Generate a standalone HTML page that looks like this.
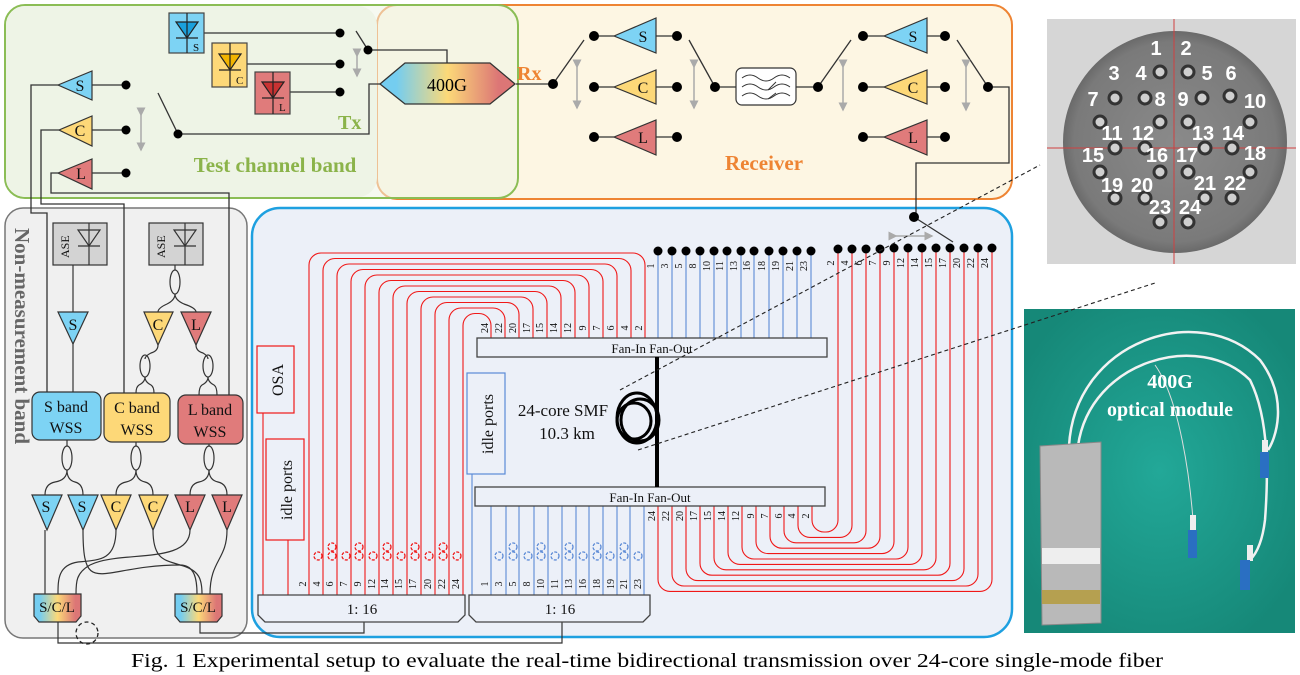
<!DOCTYPE html>
<html><head><meta charset="utf-8"><style>
html,body{margin:0;padding:0;background:#fff;}
svg{display:block;font-family:"Liberation Serif","Times New Roman",serif;}
.sans{font-family:"Liberation Sans",Arial,sans-serif;}
</style></head><body>
<svg width="1300" height="675" viewBox="0 0 1300 675" xmlns="http://www.w3.org/2000/svg">
<defs>
<linearGradient id="g4" x1="0" x2="1" y1="0" y2="0">
<stop offset="0.12" stop-color="#74cdf0"/><stop offset="0.5" stop-color="#fcd978"/><stop offset="0.88" stop-color="#dc7676"/></linearGradient>
<radialGradient id="ph" cx="0.5" cy="0.5" r="0.6"><stop offset="0" stop-color="#22a898"/><stop offset="1" stop-color="#168878"/></radialGradient>
<radialGradient id="fc" cx="0.5" cy="0.5" r="0.5"><stop offset="0" stop-color="#8a8a8a"/><stop offset="0.9" stop-color="#7a7a7a"/><stop offset="1" stop-color="#6a6a6a"/></radialGradient>
<marker id="ah" markerWidth="6" markerHeight="6" refX="5" refY="3" orient="auto"><path d="M0,0 L6,3 L0,6 z" fill="#aaa"/></marker>
</defs>
<!-- boxes -->
<rect x="377" y="5" width="635" height="194" rx="20" fill="#fdf6e3" stroke="#ee8433" stroke-width="2"/>
<rect x="5" y="5" width="513" height="193" rx="20" fill="#eef4e6" fill-opacity="0.55" stroke="#8bbd55" stroke-width="2"/>
<rect x="6" y="6" width="371" height="191" rx="19" fill="#eef4e6"/>
<rect x="5" y="208" width="242" height="430" rx="18" fill="#f0f0f0" stroke="#777" stroke-width="1.5"/>
<rect x="252" y="208" width="760" height="429" rx="28" fill="#ecf0f8" stroke="#1ea0e0" stroke-width="2.5"/>

<g stroke="#333" stroke-width="1.3" fill="none">
<line x1="204" y1="33" x2="340" y2="33"/><line x1="247" y1="64" x2="340" y2="64"/><line x1="290" y1="92" x2="340" y2="92"/>
<line x1="356" y1="31" x2="368" y2="50"/>
<polyline points="368,50 447,50 447,63"/>
<polyline points="380,84 369,84 369,134 178,134"/>
<line x1="158" y1="93" x2="178" y2="134"/>
<line x1="92" y1="85" x2="126" y2="85"/><line x1="92" y1="130" x2="126" y2="130"/><line x1="92" y1="173" x2="126" y2="173"/>
<polyline points="58,85 31,85 31,213 47,213 47,393"/>
<polyline points="59,130 41,130 41,204 124,204 124,393"/>
<polyline points="58,173 51,173 51,193 229,193 229,395"/>
<line x1="516" y1="84" x2="553" y2="84"/>
<line x1="553" y1="84" x2="584" y2="40"/>
<line x1="594" y1="36" x2="614" y2="36"/><line x1="594" y1="87" x2="614" y2="87"/><line x1="594" y1="137" x2="614" y2="137"/>
<line x1="656" y1="36" x2="677" y2="36"/><line x1="656" y1="87" x2="677" y2="87"/><line x1="656" y1="137" x2="677" y2="137"/>
<line x1="689" y1="40" x2="715" y2="87"/>
<line x1="715" y1="87" x2="736" y2="87"/><line x1="796" y1="87" x2="818" y2="87"/>
<line x1="818" y1="87" x2="851" y2="40"/>
<line x1="863" y1="36" x2="884" y2="36"/><line x1="863" y1="87" x2="884" y2="87"/><line x1="863" y1="137" x2="884" y2="137"/>
<line x1="927" y1="36" x2="945" y2="36"/><line x1="927" y1="87" x2="945" y2="87"/><line x1="927" y1="137" x2="945" y2="137"/>
<line x1="957" y1="40" x2="988" y2="87"/>
<polyline points="988,87 1009,87 1009,163 916,163 916,217"/>
<line x1="914" y1="217" x2="953" y2="242"/>
</g>
<g stroke="#aaa" stroke-width="1.5" marker-start="url(#ah)" marker-end="url(#ah)">
<line x1="357" y1="56" x2="357" y2="76"/><line x1="141" y1="115" x2="141" y2="150"/>
<line x1="577" y1="67" x2="577" y2="108"/><line x1="694" y1="67" x2="694" y2="108"/>
<line x1="843" y1="67" x2="843" y2="110"/><line x1="966" y1="67" x2="966" y2="110"/>
<line x1="896" y1="236" x2="932" y2="236"/>
</g>
<g fill="#000">
<circle cx="340" cy="33" r="4.5"/><circle cx="340" cy="64" r="4.5"/><circle cx="340" cy="92" r="4.5"/><circle cx="368" cy="50" r="4.5"/>
<circle cx="126" cy="85" r="4.5"/><circle cx="126" cy="130" r="4.5"/><circle cx="126" cy="173" r="4.5"/><circle cx="178" cy="134" r="4.5"/>
<circle cx="553" cy="84" r="5"/><circle cx="594" cy="36" r="5"/><circle cx="594" cy="87" r="5"/><circle cx="594" cy="137" r="5"/>
<circle cx="677" cy="36" r="5"/><circle cx="677" cy="87" r="5"/><circle cx="677" cy="137" r="5"/><circle cx="715" cy="87" r="5"/>
<circle cx="818" cy="87" r="5"/><circle cx="863" cy="36" r="5"/><circle cx="863" cy="87" r="5"/><circle cx="863" cy="137" r="5"/>
<circle cx="945" cy="36" r="5"/><circle cx="945" cy="87" r="5"/><circle cx="945" cy="137" r="5"/><circle cx="988" cy="87" r="5"/>
<circle cx="914" cy="217" r="5"/>
</g>
<g stroke="#444" stroke-width="1.2">
<rect x="169" y="13" width="35" height="40" fill="#7dd3f4"/>
<rect x="212" y="43" width="35" height="44" fill="#fdd878"/>
<rect x="255" y="72" width="35" height="42" fill="#e07b7b"/>
</g>
<g stroke="#222" stroke-width="1.2">
<path d="M176 22 H198 L187 38 Z" fill="#1aa0dc"/><line x1="187" y1="13" x2="187" y2="53"/><line x1="176" y1="38" x2="198" y2="38"/>
<path d="M219 54 H241 L230 70 Z" fill="#f2b400"/><line x1="230" y1="43" x2="230" y2="87"/><line x1="219" y1="70" x2="241" y2="70"/>
<path d="M262 82 H284 L273 98 Z" fill="#c83232"/><line x1="273" y1="72" x2="273" y2="114"/><line x1="262" y1="98" x2="284" y2="98"/>
</g>
<g font-size="11" fill="#111"><text x="193" y="51">S</text><text x="236" y="84">C</text><text x="279" y="111">L</text></g>
<polygon points="380,84 405,63 490,63 515,84 490,104 405,104" fill="url(#g4)" stroke="#333" stroke-width="1.3"/>
<text x="447" y="91" font-size="18" text-anchor="middle">400G</text>
<g stroke="#333" stroke-width="1.2">
<polygon points="58,85 92,71 92,100" fill="#7dd3f4"/><polygon points="59,130 92,116 92,146" fill="#fdd878"/><polygon points="58,173 92,159 92,189" fill="#e07b7b"/>
<polygon points="614,36 656,18 656,53" fill="#7dd3f4"/><polygon points="614,87 656,70 656,104" fill="#fdd878"/><polygon points="614,137 656,120 656,155" fill="#e07b7b"/>
<polygon points="884,36 927,18 927,53" fill="#7dd3f4"/><polygon points="884,87 927,70 927,104" fill="#fdd878"/><polygon points="884,137 927,120 927,155" fill="#e07b7b"/>
</g>
<g font-size="16" text-anchor="middle" fill="#111">
<text x="80" y="91">S</text><text x="80" y="136">C</text><text x="81" y="179">L</text>
<text x="643" y="42">S</text><text x="643" y="93">C</text><text x="643" y="143">L</text>
<text x="913" y="42">S</text><text x="913" y="93">C</text><text x="913" y="143">L</text>
</g>
<rect x="736" y="68" width="60" height="37" rx="6" fill="#fff" stroke="#333" stroke-width="1.2"/>
<g stroke="#333" fill="none" stroke-width="1"><path d="M742 78 q8 -6 16 0 t16 0 t16 0"/><path d="M742 87 q8 -6 16 0 t16 0 t16 0"/><path d="M742 96 q8 -6 16 0 t16 0 t16 0"/><line x1="768" y1="90" x2="776" y2="82"/><line x1="768" y1="99" x2="776" y2="93"/></g>
<g font-weight="bold">
<text x="338" y="129" font-size="20" fill="#8bb34a">Tx</text>
<text x="275" y="172" font-size="21" fill="#8bb34a" text-anchor="middle">Test channel band</text>
<text x="517" y="80" font-size="20" fill="#ee8433">Rx</text>
<text x="764" y="170" font-size="21" fill="#ee8433" text-anchor="middle">Receiver</text>
<text transform="translate(15,228) rotate(90)" font-size="21" fill="#666">Non-measurement band</text>
</g>

<g stroke="#333" stroke-width="1.2" fill="none">
<line x1="73" y1="265" x2="73" y2="393"/>
<line x1="175" y1="265" x2="175" y2="270"/>
<ellipse cx="175" cy="282" rx="5" ry="12"/>
<path d="M175 294 q0 6 -8 10 q-9 4 -9 8"/><path d="M175 294 q0 6 9 10 q12 4 12 8"/>
<path d="M158 345 q0 6 -7 8 q-6 3 -6 6"/><ellipse cx="145" cy="366" rx="5" ry="11"/><path d="M145 377 q0 5 -6 8 q-3 2 -3 8"/><path d="M145 377 q0 5 6 8 q3 2 3 8"/>
<path d="M196 345 q0 6 7 8 q5 3 5 6"/><ellipse cx="208" cy="366" rx="5" ry="11"/><path d="M208 377 q0 5 -6 8 q-3 2 -3 10"/><path d="M208 377 q0 5 6 8 q3 2 3 10"/>
<line x1="67" y1="440" x2="67" y2="446"/><ellipse cx="67" cy="458" rx="5" ry="12"/><path d="M67 470 q0 10 -12 12 q-10 2 -10 13"/><path d="M67 470 q0 10 8 12 q8 2 8 13"/>
<line x1="136" y1="442" x2="136" y2="446"/><ellipse cx="136" cy="458" rx="5" ry="12"/><path d="M136 470 q0 10 -10 12 q-10 2 -10 13"/><path d="M136 470 q0 10 9 12 q8 2 8 13"/>
<line x1="209" y1="444" x2="209" y2="446"/><ellipse cx="209" cy="458" rx="5" ry="12"/><path d="M209 470 q0 10 -10 12 q-9 2 -9 13"/><path d="M209 470 q0 10 9 12 q9 2 9 13"/>
<line x1="45" y1="530" x2="45" y2="594"/>
<path d="M83 530 C83 600 100 565 180 565 C195 565 197 580 197 594"/>
<path d="M116 530 C116 560 100 560 78 562 C58 565 58 580 58 594"/>
<path d="M153 530 C153 560 165 560 180 565 C200 570 202 580 202 594"/>
<path d="M190 530 C190 565 120 550 90 565 C76 573 76 582 76 594"/>
<path d="M227 530 C227 560 210 560 210 594"/>
<polyline points="58,622 58,643 562,643 562,622"/>
<polyline points="200,622 200,633 364,633 364,622"/>
</g>
<circle cx="87" cy="633" r="11" fill="none" stroke="#222" stroke-width="1.3" stroke-dasharray="4,3"/>
<g stroke="#333" stroke-width="1.2">
<rect x="53" y="223" width="54" height="42" fill="#d3d3d3"/><rect x="149" y="223" width="54" height="42" fill="#d3d3d3"/>
<path d="M78 230 H100 L89 246 Z" fill="none"/><line x1="89" y1="223" x2="89" y2="265"/><line x1="78" y1="246" x2="100" y2="246"/>
<path d="M174 230 H196 L185 246 Z" fill="none"/><line x1="185" y1="223" x2="185" y2="265"/><line x1="174" y1="246" x2="196" y2="246"/>
<polygon points="58,312 88,312 73,344" fill="#7dd3f4"/>
<polygon points="144,312 173,312 158,345" fill="#fdd878"/><polygon points="181,312 211,312 196,345" fill="#e07b7b"/>
<rect x="32" y="392" width="69" height="48" rx="8" fill="#7dd3f4"/>
<rect x="104" y="393" width="66" height="49" rx="8" fill="#fdd878"/>
<rect x="178" y="395" width="65" height="49" rx="8" fill="#e07b7b"/>
<polygon points="32,495 62,495 47,530" fill="#7dd3f4"/><polygon points="68,495 98,495 83,530" fill="#7dd3f4"/>
<polygon points="101,495 131,495 116,530" fill="#fdd878"/><polygon points="139,495 168,495 153,530" fill="#fdd878"/>
<polygon points="175,495 205,495 190,530" fill="#e07b7b"/><polygon points="212,495 242,495 227,530" fill="#e07b7b"/>
<polygon points="34,594 81,594 81,616 76,622 39,622 34,616" fill="url(#g4)"/>
<polygon points="175,594 222,594 222,616 217,622 180,622 175,616" fill="url(#g4)"/>
</g>
<g font-size="12" fill="#111"><text transform="translate(69,258) rotate(-90)">ASE</text><text transform="translate(165,258) rotate(-90)">ASE</text></g>
<g font-size="16" text-anchor="middle" fill="#111">
<text x="73" y="330">S</text><text x="158" y="330">C</text><text x="196" y="330">L</text>
<text x="66" y="412">S band</text><text x="66" y="433">WSS</text>
<text x="137" y="413">C band</text><text x="137" y="435">WSS</text>
<text x="210" y="415">L band</text><text x="210" y="437">WSS</text>
<text x="46" y="512">S</text><text x="82" y="512">S</text><text x="116" y="512">C</text><text x="153" y="512">C</text><text x="190" y="512">L</text><text x="227" y="512">L</text>
<text x="57" y="612" font-size="15">S/C/L</text><text x="198" y="612" font-size="15">S/C/L</text>
</g>

<g fill="none" stroke="#f01818" stroke-width="1.1">
<path d="M309 595V265A12 12 0 0 1 321 253H633A12 12 0 0 1 645 265V338"/>
<path d="M323 595V270.5A12 12 0 0 1 335 258.5H619A12 12 0 0 1 631 270.5V338"/>
<path d="M337 595V276A12 12 0 0 1 349 264H605A12 12 0 0 1 617 276V338"/>
<path d="M351 595V281.5A12 12 0 0 1 363 269.5H591A12 12 0 0 1 603 281.5V338"/>
<path d="M365 595V287A12 12 0 0 1 377 275H577A12 12 0 0 1 589 287V338"/>
<path d="M379 595V292.5A12 12 0 0 1 391 280.5H563A12 12 0 0 1 575 292.5V338"/>
<path d="M393 595V298A12 12 0 0 1 405 286H549A12 12 0 0 1 561 298V338"/>
<path d="M407 595V303.5A12 12 0 0 1 419 291.5H535A12 12 0 0 1 547 303.5V338"/>
<path d="M421 595V309A12 12 0 0 1 433 297H521A12 12 0 0 1 533 309V338"/>
<path d="M435 595V314.5A12 12 0 0 1 447 302.5H507A12 12 0 0 1 519 314.5V338"/>
<path d="M449 595V320A12 12 0 0 1 461 308H493A12 12 0 0 1 505 320V338"/>
<path d="M463 595V325.5A12 12 0 0 1 475 313.5H479A12 12 0 0 1 491 325.5V338"/>
<path d="M812 506V520A12 12 0 0 0 824 532H826A12 12 0 0 0 838 520V248"/>
<path d="M798 506V525.4A12 12 0 0 0 810 537.4H840A12 12 0 0 0 852 525.4V248"/>
<path d="M784 506V530.8A12 12 0 0 0 796 542.8H854A12 12 0 0 0 866 530.8V248"/>
<path d="M770 506V536.2A12 12 0 0 0 782 548.2H868A12 12 0 0 0 880 536.2V248"/>
<path d="M756 506V541.6A12 12 0 0 0 768 553.6H882A12 12 0 0 0 894 541.6V248"/>
<path d="M742 506V547A12 12 0 0 0 754 559H896A12 12 0 0 0 908 547V248"/>
<path d="M728 506V552.4A12 12 0 0 0 740 564.4H910A12 12 0 0 0 922 552.4V248"/>
<path d="M714 506V557.8A12 12 0 0 0 726 569.8H924A12 12 0 0 0 936 557.8V248"/>
<path d="M700 506V563.2A12 12 0 0 0 712 575.2H938A12 12 0 0 0 950 563.2V248"/>
<path d="M686 506V568.6A12 12 0 0 0 698 580.6H952A12 12 0 0 0 964 568.6V248"/>
<path d="M672 506V574A12 12 0 0 0 684 586H966A12 12 0 0 0 978 574V248"/>
<path d="M658 506V579.4A12 12 0 0 0 670 591.4H980A12 12 0 0 0 992 579.4V248"/>
<line x1="263" y1="413" x2="263" y2="595"/><line x1="288" y1="540" x2="288" y2="595"/>
</g>
<g stroke="#5b8ad6" stroke-width="1.1">
<line x1="658" y1="250" x2="658" y2="338"/><line x1="672" y1="250" x2="672" y2="338"/><line x1="686" y1="250" x2="686" y2="338"/><line x1="700" y1="250" x2="700" y2="338"/><line x1="714" y1="250" x2="714" y2="338"/><line x1="727" y1="250" x2="727" y2="338"/><line x1="741" y1="250" x2="741" y2="338"/><line x1="754" y1="250" x2="754" y2="338"/><line x1="769" y1="250" x2="769" y2="338"/><line x1="783" y1="250" x2="783" y2="338"/><line x1="797" y1="250" x2="797" y2="338"/><line x1="811" y1="250" x2="811" y2="338"/>
<line x1="491" y1="506" x2="491" y2="595"/><line x1="506" y1="506" x2="506" y2="595"/><line x1="519" y1="506" x2="519" y2="595"/><line x1="534" y1="506" x2="534" y2="595"/><line x1="548" y1="506" x2="548" y2="595"/><line x1="562" y1="506" x2="562" y2="595"/><line x1="576" y1="506" x2="576" y2="595"/><line x1="589" y1="506" x2="589" y2="595"/><line x1="603" y1="506" x2="603" y2="595"/><line x1="617" y1="506" x2="617" y2="595"/><line x1="630" y1="506" x2="630" y2="595"/><line x1="644" y1="506" x2="644" y2="595"/>
<line x1="472" y1="474" x2="472" y2="595"/>
</g>
<g fill="none" stroke="#f01818" stroke-width="1.3" stroke-dasharray="3,1.5">
<circle cx="318" cy="556" r="4"/><circle cx="332" cy="547" r="4"/><circle cx="332" cy="556" r="4"/><circle cx="346" cy="556" r="4"/><circle cx="359" cy="547" r="4"/><circle cx="359" cy="556" r="4"/><circle cx="373" cy="556" r="4"/><circle cx="387" cy="547" r="4"/><circle cx="387" cy="556" r="4"/><circle cx="401" cy="556" r="4"/><circle cx="415" cy="547" r="4"/><circle cx="415" cy="556" r="4"/><circle cx="429" cy="556" r="4"/><circle cx="443" cy="547" r="4"/><circle cx="443" cy="556" r="4"/><circle cx="457" cy="556" r="4"/>
</g>
<g fill="none" stroke="#5b8ad6" stroke-width="1.3" stroke-dasharray="3,1.5">
<circle cx="499" cy="556" r="4"/><circle cx="513" cy="547" r="4"/><circle cx="513" cy="556" r="4"/><circle cx="528" cy="556" r="4"/><circle cx="541" cy="547" r="4"/><circle cx="541" cy="556" r="4"/><circle cx="555" cy="556" r="4"/><circle cx="569" cy="547" r="4"/><circle cx="569" cy="556" r="4"/><circle cx="583" cy="556" r="4"/><circle cx="597" cy="547" r="4"/><circle cx="597" cy="556" r="4"/><circle cx="610" cy="556" r="4"/><circle cx="624" cy="547" r="4"/><circle cx="624" cy="556" r="4"/><circle cx="638" cy="556" r="4"/>
</g>
<g fill="#000">
<circle cx="658" cy="251" r="4.5"/><circle cx="672" cy="251" r="4.5"/><circle cx="686" cy="251" r="4.5"/><circle cx="700" cy="251" r="4.5"/><circle cx="714" cy="251" r="4.5"/><circle cx="727" cy="251" r="4.5"/><circle cx="741" cy="251" r="4.5"/><circle cx="754" cy="251" r="4.5"/><circle cx="769" cy="251" r="4.5"/><circle cx="783" cy="251" r="4.5"/><circle cx="797" cy="251" r="4.5"/><circle cx="811" cy="251" r="4.5"/>
<circle cx="838" cy="249" r="4.5"/><circle cx="852" cy="249" r="4.5"/><circle cx="866" cy="249" r="4.5"/><circle cx="880" cy="249" r="4.5"/><circle cx="894" cy="248" r="4.5"/><circle cx="908" cy="248" r="4.5"/><circle cx="922" cy="248" r="4.5"/><circle cx="936" cy="248" r="4.5"/><circle cx="950" cy="248" r="4.5"/><circle cx="964" cy="248" r="4.5"/><circle cx="978" cy="248" r="4.5"/><circle cx="992" cy="248" r="4.5"/>
</g>
<g font-size="10" fill="#111" text-anchor="middle">
<text transform="translate(654,266) rotate(-90)">1</text><text transform="translate(668,266) rotate(-90)">3</text><text transform="translate(682,266) rotate(-90)">5</text><text transform="translate(696,266) rotate(-90)">8</text><text transform="translate(710,266) rotate(-90)">10</text><text transform="translate(723,266) rotate(-90)">11</text><text transform="translate(737,266) rotate(-90)">13</text><text transform="translate(750,266) rotate(-90)">16</text><text transform="translate(765,266) rotate(-90)">18</text><text transform="translate(779,266) rotate(-90)">19</text><text transform="translate(793,266) rotate(-90)">21</text><text transform="translate(807,266) rotate(-90)">23</text>
<text transform="translate(834,263) rotate(-90)">2</text><text transform="translate(848,263) rotate(-90)">4</text><text transform="translate(862,263) rotate(-90)">6</text><text transform="translate(876,263) rotate(-90)">7</text><text transform="translate(890,263) rotate(-90)">9</text><text transform="translate(904,263) rotate(-90)">12</text><text transform="translate(918,263) rotate(-90)">14</text><text transform="translate(932,263) rotate(-90)">15</text><text transform="translate(946,263) rotate(-90)">17</text><text transform="translate(960,263) rotate(-90)">20</text><text transform="translate(974,263) rotate(-90)">22</text><text transform="translate(988,263) rotate(-90)">24</text>
<text transform="translate(488,328) rotate(-90)">24</text><text transform="translate(502,328) rotate(-90)">22</text><text transform="translate(516,328) rotate(-90)">20</text><text transform="translate(530,328) rotate(-90)">17</text><text transform="translate(543,328) rotate(-90)">15</text><text transform="translate(557,328) rotate(-90)">14</text><text transform="translate(571,328) rotate(-90)">12</text><text transform="translate(586,328) rotate(-90)">9</text><text transform="translate(600,328) rotate(-90)">7</text><text transform="translate(614,328) rotate(-90)">6</text><text transform="translate(628,328) rotate(-90)">4</text><text transform="translate(642,328) rotate(-90)">2</text>
<text transform="translate(655,516) rotate(-90)">24</text><text transform="translate(669,516) rotate(-90)">22</text><text transform="translate(683,516) rotate(-90)">20</text><text transform="translate(697,516) rotate(-90)">17</text><text transform="translate(711,516) rotate(-90)">15</text><text transform="translate(725,516) rotate(-90)">14</text><text transform="translate(739,516) rotate(-90)">12</text><text transform="translate(754,516) rotate(-90)">9</text><text transform="translate(768,516) rotate(-90)">7</text><text transform="translate(782,516) rotate(-90)">6</text><text transform="translate(795,516) rotate(-90)">4</text><text transform="translate(809,516) rotate(-90)">2</text>
<text transform="translate(306,584) rotate(-90)">2</text><text transform="translate(320,584) rotate(-90)">4</text><text transform="translate(333,584) rotate(-90)">6</text><text transform="translate(347,584) rotate(-90)">7</text><text transform="translate(361,584) rotate(-90)">9</text><text transform="translate(375,584) rotate(-90)">12</text><text transform="translate(388,584) rotate(-90)">14</text><text transform="translate(402,584) rotate(-90)">15</text><text transform="translate(416,584) rotate(-90)">17</text><text transform="translate(431,584) rotate(-90)">20</text><text transform="translate(445,584) rotate(-90)">22</text><text transform="translate(459,584) rotate(-90)">24</text>
<text transform="translate(488,584) rotate(-90)">1</text><text transform="translate(502,584) rotate(-90)">3</text><text transform="translate(516,584) rotate(-90)">5</text><text transform="translate(530,584) rotate(-90)">8</text><text transform="translate(544,584) rotate(-90)">10</text><text transform="translate(558,584) rotate(-90)">11</text><text transform="translate(572,584) rotate(-90)">13</text><text transform="translate(586,584) rotate(-90)">16</text><text transform="translate(600,584) rotate(-90)">18</text><text transform="translate(614,584) rotate(-90)">19</text><text transform="translate(627,584) rotate(-90)">21</text><text transform="translate(641,584) rotate(-90)">23</text>
</g>
<g stroke="#444" stroke-width="1.3">
<rect x="477" y="338" width="350" height="19" fill="#ecf0f8"/>
<rect x="475" y="487" width="350" height="19" fill="#ecf0f8"/>
<polygon points="258,595 465,595 465,615 458,622 265,622 258,615" fill="#ecf0f8"/>
<polygon points="469,595 650,595 650,615 643,622 476,622 469,615" fill="#ecf0f8"/>
</g>
<rect x="257" y="346" width="37" height="67" fill="#ecf0f8" stroke="#f01818" stroke-width="1.2"/>
<rect x="266" y="439" width="38" height="101" fill="#ecf0f8" stroke="#f01818" stroke-width="1.2"/>
<rect x="467" y="373" width="38" height="101" fill="#ecf0f8" stroke="#5b8ad6" stroke-width="1.2"/>
<line x1="657" y1="357" x2="657" y2="487" stroke="#000" stroke-width="4"/>
<g fill="none" stroke="#000" stroke-width="3"><ellipse cx="637" cy="418" rx="20" ry="25"/><ellipse cx="640" cy="420" rx="19" ry="21"/><ellipse cx="634" cy="421" rx="17" ry="18"/></g>
<g fill="#111" text-anchor="middle">
<text x="652" y="353" font-size="13">Fan-In Fan-Out</text>
<text x="650" y="502" font-size="13">Fan-In Fan-Out</text>
<text x="362" y="614" font-size="15">1:  16</text><text x="560" y="614" font-size="15">1:  16</text>
<text x="563" y="416" font-size="17">24-core SMF</text><text x="567" y="439" font-size="17">10.3 km</text>
<text transform="translate(283,380) rotate(-90)" font-size="16">OSA</text>
<text transform="translate(292,490) rotate(-90)" font-size="16">idle ports</text>
<text transform="translate(493,424) rotate(-90)" font-size="16">idle ports</text>
</g>
<!-- photos -->
<rect x="1047" y="19" width="249" height="245" fill="#d6d6d6"/>
<ellipse cx="1175" cy="142" rx="112" ry="111" fill="url(#fc)"/>
<line x1="1174" y1="19" x2="1174" y2="264" stroke="#d04040" stroke-width="1"/><line x1="1047" y1="148" x2="1296" y2="148" stroke="#d04040" stroke-width="1"/>
<g fill="#cfcfcf" stroke="#333" stroke-width="3">
<circle cx="1160" cy="72" r="6"/><circle cx="1188" cy="72" r="6"/><circle cx="1115" cy="98" r="6"/><circle cx="1145" cy="98" r="6"/><circle cx="1202" cy="98" r="6"/><circle cx="1230" cy="96" r="6"/>
<circle cx="1100" cy="122" r="6"/><circle cx="1160" cy="122" r="6"/><circle cx="1188" cy="122" r="6"/><circle cx="1250" cy="122" r="6"/>
<circle cx="1115" cy="148" r="6"/><circle cx="1145" cy="148" r="6"/><circle cx="1205" cy="148" r="6"/><circle cx="1232" cy="148" r="6"/>
<circle cx="1100" cy="172" r="6"/><circle cx="1160" cy="172" r="6"/><circle cx="1188" cy="172" r="6"/><circle cx="1250" cy="172" r="6"/>
<circle cx="1115" cy="198" r="6"/><circle cx="1145" cy="198" r="6"/><circle cx="1205" cy="198" r="6"/><circle cx="1232" cy="198" r="6"/>
<circle cx="1160" cy="222" r="6"/><circle cx="1188" cy="222" r="6"/>
</g>
<g class="sans" fill="#fff" font-weight="bold" font-size="20" text-anchor="middle">
<text x="1156" y="55">1</text><text x="1186" y="55">2</text><text x="1114" y="80">3</text><text x="1141" y="80">4</text><text x="1207" y="80">5</text><text x="1231" y="80">6</text>
<text x="1093" y="106">7</text><text x="1160" y="106">8</text><text x="1183" y="106">9</text><text x="1255" y="108">10</text>
<text x="1112" y="140">11</text><text x="1143" y="140">12</text><text x="1203" y="140">13</text><text x="1233" y="140">14</text>
<text x="1093" y="162">15</text><text x="1157" y="162">16</text><text x="1187" y="162">17</text><text x="1255" y="160">18</text>
<text x="1112" y="192">19</text><text x="1142" y="192">20</text><text x="1205" y="190">21</text><text x="1235" y="190">22</text>
<text x="1160" y="214">23</text><text x="1190" y="214">24</text>
</g>
<rect x="1024" y="309" width="271" height="324" fill="url(#ph)"/>
<g fill="none" stroke="#f2f2f2" stroke-width="2.5">
<path d="M1069 446 C1075 340 1200 300 1260 360 C1290 400 1275 440 1268 450"/>
<path d="M1078 446 C1090 360 1200 330 1250 380 C1270 420 1268 480 1265 520 C1262 545 1255 555 1250 560"/>
</g>
<path d="M1155 365 C1180 400 1190 480 1193 520" stroke="#ddd" stroke-width="1" fill="none"/>
<g fill="#eee"><rect x="1262" y="440" width="6" height="14"/><rect x="1190" y="515" width="6" height="16"/><rect x="1247" y="545" width="6" height="16"/></g>
<g fill="#2a6fc2"><rect x="1260" y="452" width="9" height="26"/><rect x="1188" y="530" width="9" height="28"/><rect x="1240" y="560" width="10" height="30"/></g>
<polygon points="1040,446 1101,442 1101,623 1042,625" fill="#b9b9b9" stroke="#888"/>
<rect x="1042" y="590" width="58" height="14" fill="#b5a050"/>
<rect x="1042" y="548" width="58" height="16" fill="#eee"/>
<g fill="#fff" font-weight="bold" font-size="20" text-anchor="middle"><text x="1170" y="388">400G</text><text x="1170" y="416">optical module</text></g>
<g stroke="#222" stroke-width="1.1" stroke-dasharray="4,3" fill="none">
<line x1="620" y1="390" x2="1040" y2="165"/>
<line x1="638" y1="450" x2="1155" y2="283"/>
</g>
<text x="647" y="667" font-size="20" text-anchor="middle" textLength="1032" lengthAdjust="spacingAndGlyphs" fill="#000">Fig. 1 Experimental setup to evaluate the real-time bidirectional transmission over 24-core single-mode fiber</text>
</svg>
</body></html>
